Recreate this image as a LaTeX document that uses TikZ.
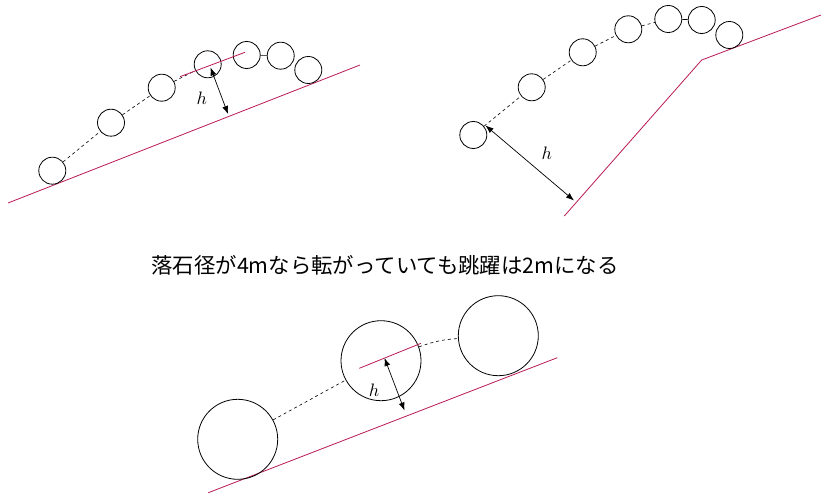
\documentclass[tikz,border=0pt]{standalone}
\usepackage{graphicx}
\usepackage{fontspec}
\newfontfamily\cjk{Noto Sans CJK JP}
\usetikzlibrary{arrows.meta}
\definecolor{slopered}{RGB}{185, 25, 85}
\newcommand{\hmark}{\scalebox{1.8}{$h$}}

\begin{document}
\begin{tikzpicture}[
    x=1pt, y=-1pt,
    ball/.style={circle, draw, minimum size=27pt, inner sep=0pt, line width=0.8pt},
    bigball/.style={ball, minimum size=80pt},
    slope/.style={draw=slopered, line width=0.8pt},
    trail/.style={dashed, line width=0.6pt},
    arrow/.style={{Latex[length=8pt,width=6pt]}-{Latex[length=8pt,width=6pt]}, line width=0.7pt},
    hlabel/.style={inner sep=0pt}
]
\useasboundingbox (0,0) rectangle (821,494);

% top left: gentle slope
\coordinate (sl1) at (8,203);
\coordinate (sl2) at (360,65);
\draw[slope] (sl1) -- (sl2);
\node[ball] (a1) at (52.3,170.7) {};
\node[ball] (a2) at (111,122.7) {};
\node[ball] (a3) at (161.7,87.7) {};
\node[ball] (a4) at (207.7,64.3) {};
\node[ball] (a5) at (246.7,55) {};
\node[ball] (a6) at (280.7,55.7) {};
\node[ball] (a7) at (308.3,70) {};
\draw[trail] (a1) -- (a2);
\draw[trail] (a2) -- (a3);
\draw[trail] (a3) -- (a4);
\draw[line width=0.6pt] (a5) -- (a6);
\coordinate (ta1) at (180,76.7);
\coordinate (ta2) at (245,52.3);
\draw[slope] (ta1) -- (ta2);
\coordinate (ha1) at (210.5,67.5);
\coordinate (ha2) at (228,114);
\draw[arrow] (ha1) -- (ha2);
\node[hlabel] (h1) at (201.7,98.3) {\hmark};

% top right: slope with a break
\coordinate (sr1) at (564.3,216);
\coordinate (sr2) at (701.7,60);
\coordinate (sr3) at (821,15);
\draw[slope] (sr1) -- (sr2) -- (sr3);
\node[ball] (b1) at (473.3,135) {};
\node[ball] (b2) at (531.7,87.3) {};
\node[ball] (b3) at (582.7,52.3) {};
\node[ball] (b4) at (628.3,29.3) {};
\node[ball] (b5) at (668.3,19) {};
\node[ball] (b6) at (701.7,20) {};
\node[ball] (b7) at (729.3,35) {};
\draw[trail] (b1) -- (b2);
\draw[trail] (b2) -- (b3);
\draw[trail] (b3) -- (b4);
\draw[trail] (b4) -- (b5);
\draw[line width=0.6pt] (b5) -- (b6);
\coordinate (hb1) at (485.5,125.5);
\coordinate (hb2) at (574,200.5);
\draw[arrow] (hb1) -- (hb2);
\node[hlabel] (h2) at (546.7,153.3) {\hmark};

% caption
\node[font=\cjk\fontsize{21.4}{24}\selectfont, inner sep=0pt] (cap) at (385,265)
    {落石径が4mなら転がっていても跳躍は2mになる};

% bottom: big rock
\coordinate (sb1) at (208.3,492.7);
\coordinate (sb2) at (557.3,357.7);
\draw[slope] (sb1) -- (sb2);
\node[bigball] (c1) at (237.7,439.3) {};
\node[bigball] (c2) at (381,360.7) {};
\node[bigball] (c3) at (498.3,335.7) {};
\draw[trail] (c1) -- (c2);
\draw[trail] (c2) to[bend left=8] (c3);
\coordinate (tc1) at (359.3,368.3);
\coordinate (tc2) at (421,343.3);
\draw[slope] (tc1) -- (tc2);
\coordinate (hc1) at (384.5,358);
\coordinate (hc2) at (404.5,410.5);
\draw[arrow] (hc1) -- (hc2);
\node[hlabel] (h3) at (374,390) {\hmark};

\end{tikzpicture}
\end{document}
